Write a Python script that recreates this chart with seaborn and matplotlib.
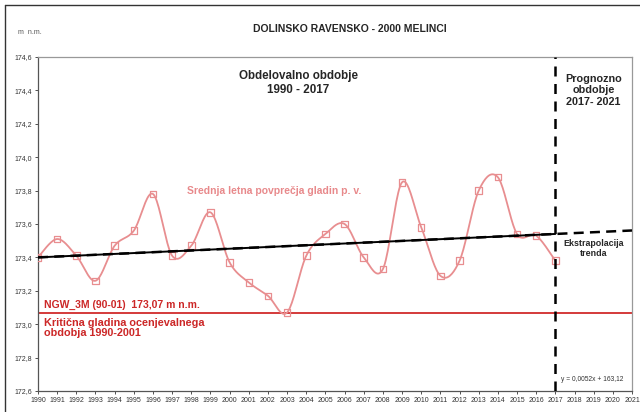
import numpy as np
import pandas as pd
import matplotlib
matplotlib.use("Agg")
import matplotlib.pyplot as plt
import seaborn as sns
from matplotlib.ticker import FuncFormatter
from matplotlib.lines import Line2D

# ---- data ----
years = list(range(1990, 2018))
levels = [173.40, 173.51, 173.41, 173.26, 173.47, 173.56, 173.78, 173.41,
          173.47, 173.67, 173.37, 173.25, 173.17, 173.07, 173.41, 173.54,
          173.60, 173.40, 173.33, 173.85, 173.58, 173.29, 173.38, 173.80,
          173.88, 173.54, 173.53, 173.38]
trend_years = [1990, 2017, 2021]
trend_slope = 0.0052
trend_start = 173.40
ngw_level = 173.07
split_year = 2017
x_ticks = list(range(1990, 2022))
y_ticks = [172.6, 172.8, 173.0, 173.2, 173.4, 173.6, 173.8, 174.0, 174.2, 174.4, 174.6]

sns.set_style("white")
plt.rcParams['font.family'] = ['Liberation Sans', 'DejaVu Sans']

fig = plt.figure(figsize=(6.4, 4.12), dpi=100)
W, H = 640, 412
ax = fig.add_axes([38 / W, (H - 391) / H, (632 - 38) / W, (391 - 57) / H])

# smooth (Catmull-Rom) rendering of the series line
P = np.column_stack([years, levels]).astype(float)
Pext = np.vstack([P[0], P, P[-1]])
seg = []
t = np.linspace(0, 1, 20, endpoint=False)
for i in range(1, len(Pext) - 2):
    p0, p1, p2, p3 = Pext[i - 1], Pext[i], Pext[i + 1], Pext[i + 2]
    tt = t[:, None]
    pts = 0.5 * ((2 * p1) + (-p0 + p2) * tt + (2 * p0 - 5 * p1 + 4 * p2 - p3) * tt ** 2
                 + (-p0 + 3 * p1 - 3 * p2 + p3) * tt ** 3)
    seg.append(pts)
seg.append(P[-1][None, :])
smooth = np.vstack(seg)
sm_df = pd.DataFrame({"x": smooth[:, 0], "y": smooth[:, 1]})

series_col = "#e88e90"
sns.lineplot(data=sm_df, x="x", y="y", sort=False, ax=ax, color=series_col, lw=1.3, zorder=3)
df = pd.DataFrame({"year": years, "level": levels})
sns.scatterplot(data=df, x="year", y="level", ax=ax, marker="s", s=22,
                facecolor="none", edgecolor=series_col, linewidth=0.9, zorder=4)

# trend line
tr_y = [trend_start + trend_slope * (yy - trend_years[0]) for yy in trend_years]
ax.plot(trend_years[:2], tr_y[:2], color="black", lw=1.4, zorder=5)
ax.plot(trend_years, tr_y, color="black", lw=1.8, ls=(0, (4, 2.5)), zorder=5)

# NGW line
ax.axhline(ngw_level, color="#d43a3a", lw=1.4, zorder=2)

# split line
ax.axvline(split_year, color="black", lw=1.8, ls=(0, (4, 3)), zorder=6)

ax.set_xlim(1990, 2021)
ax.set_ylim(172.6, 174.6)
ax.set_xticks(x_ticks)
ax.set_yticks(y_ticks)
ax.yaxis.set_major_formatter(FuncFormatter(lambda v, p: f"{v:.1f}".replace(".", ",")))
ax.tick_params(axis="both", labelsize=5, colors="#333333", length=2.5, width=0.6,
               direction="out", pad=2)
ax.tick_params(axis="x", bottom=True)
ax.tick_params(axis="y", left=True)
ax.set_xlabel("")
ax.set_ylabel("")
for s in ["left", "bottom"]:
    ax.spines[s].set_color("#555555")
    ax.spines[s].set_linewidth(0.9)
for s in ["top", "right"]:
    ax.spines[s].set_color("#999999")
    ax.spines[s].set_linewidth(0.9)

# texts
fig.text(350 / W, 1 - 29 / H, "DOLINSKO RAVENSKO - 2000 MELINCI", ha="center", va="center",
         fontsize=7.5, fontweight="bold")
fig.text(18 / W, 1 - 32 / H, "m  n.m.", ha="left", va="center", fontsize=5, color="#555555")

ax.text(2003.6, 174.444, "Obdelovalno obdobje\n1990 - 2017", ha="center", va="center",
        fontsize=8.4, fontweight="bold", linespacing=1.15)
ax.text(2019.0, 174.40, "Prognozno\nobdobje\n2017- 2021", ha="center", va="center",
        fontsize=7.8, fontweight="bold", linespacing=1.2)
ax.text(1997.8, 173.8, "Srednja letna povprečja gladin p. v.", ha="left", va="center",
        fontsize=7.5, fontweight="bold", color="#e8898b")
ax.text(2019.0, 173.456, "Ekstrapolacija\ntrenda", ha="center", va="center",
        fontsize=6.4, fontweight="bold", linespacing=1.15)
ax.text(1990.3, 173.115, "NGW_3M (90-01)  173,07 m n.m.", ha="left", va="center",
        fontsize=7.5, fontweight="bold", color="#cc2727")
ax.text(1990.3, 172.977, "Kritična gladina ocenjevalnega\nobdobja 1990-2001", ha="left",
        va="center", fontsize=7.8, fontweight="bold", color="#cc2727", linespacing=1.1)
ax.text(2017.3, 172.67, "y = 0,0052x + 163,12", ha="left", va="center", fontsize=4.8,
        color="#333333")

# outer frame (left and top)
fig.add_artist(Line2D([5 / W, 5 / W], [0, 1 - 5 / H], transform=fig.transFigure,
                      color="#333333", lw=1.0))
fig.add_artist(Line2D([5 / W, 1], [1 - 5 / H, 1 - 5 / H], transform=fig.transFigure,
                      color="#333333", lw=1.0))

fig.savefig("out.png", dpi=100)
